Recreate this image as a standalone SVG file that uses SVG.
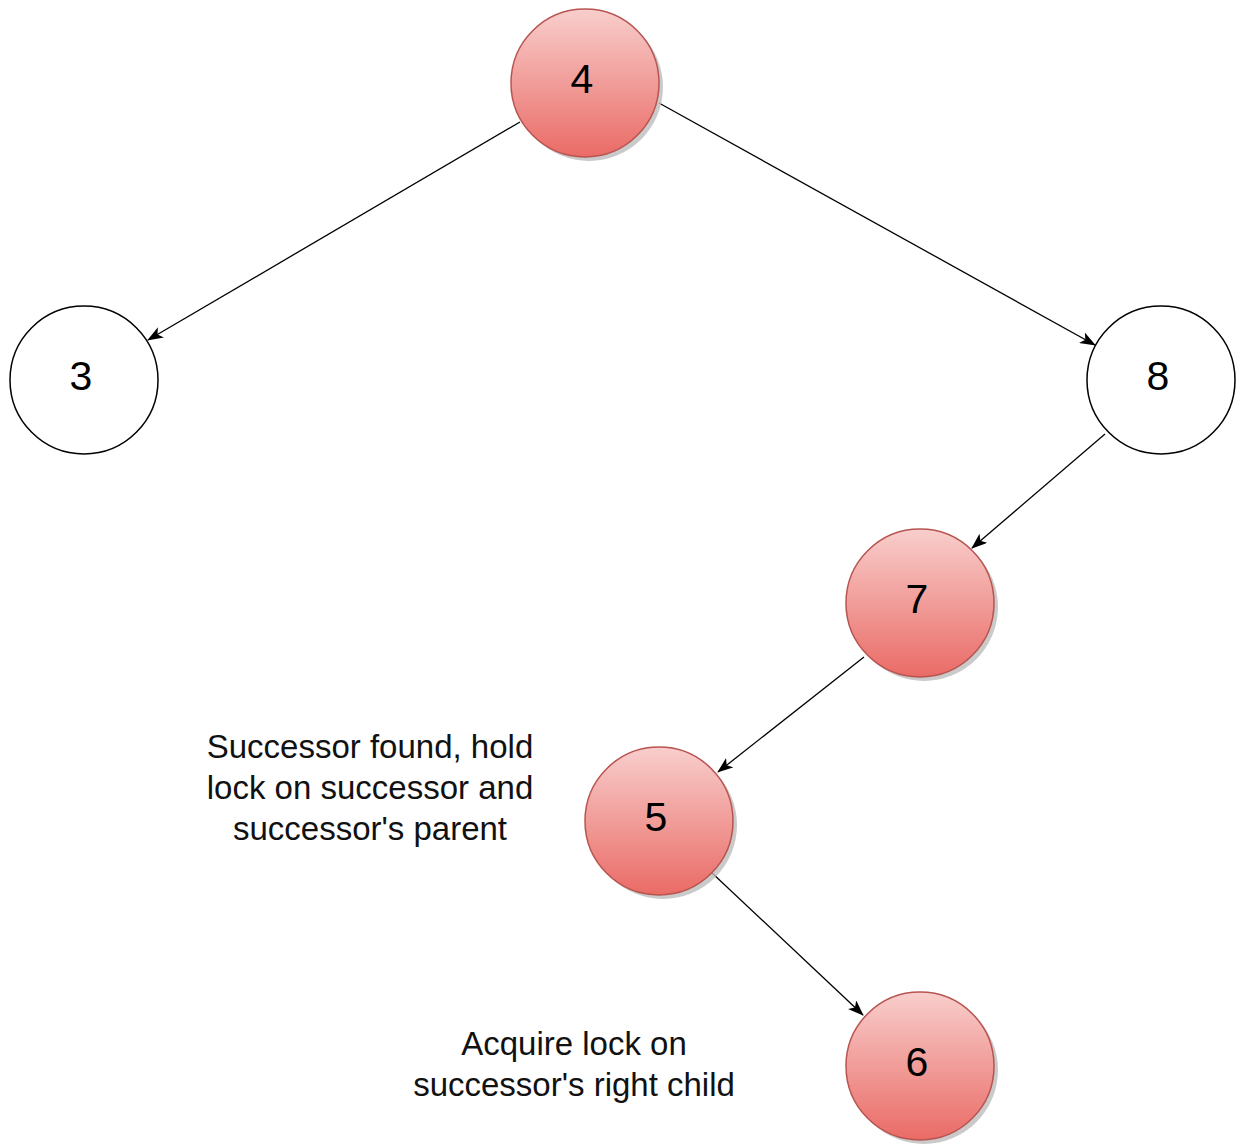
<svg xmlns="http://www.w3.org/2000/svg" width="1241" height="1146" viewBox="0 0 1241 1146">
  <style>
    .node-plain { fill: #ffffff; stroke: #000000; stroke-width: 1.5; }
    .node-red { fill: url(#redFill); stroke: #b85450; stroke-width: 1.5; }
    .shadow { fill: #bdbdbd; opacity: 0.8; }
    .digit { font-family: "Liberation Sans", Arial, sans-serif; font-size: 41px; fill: #000000; text-anchor: middle; dominant-baseline: central; }
    .note { font-family: "Liberation Sans", Arial, sans-serif; font-size: 33px; fill: #111111; text-anchor: middle; }
    .edge { stroke: #000000; stroke-width: 1.3; fill: none; marker-end: url(#arrow); }
  </style>
  <defs>
    <linearGradient id="redFill" x1="0" y1="0" x2="0" y2="1">
      <stop offset="0" stop-color="#f8cecc"/>
      <stop offset="1" stop-color="#ea6b66"/>
    </linearGradient>
    <marker id="arrow" viewBox="0 0 16 12" refX="15" refY="6" markerWidth="16" markerHeight="12" markerUnits="userSpaceOnUse" orient="auto">
      <path d="M0,0 L16,6 L0,12 L4,6 Z" fill="#000000"/>
    </marker>
  </defs>

  <rect width="1241" height="1146" fill="#ffffff"/>

  <!-- connectors -->
  <g id="connectors">
    <line class="edge" x1="520" y1="122" x2="148" y2="340"/>
    <line class="edge" x1="659" y1="103" x2="1095" y2="345"/>
    <line class="edge" x1="1105" y1="434" x2="972" y2="548"/>
    <line class="edge" x1="864" y1="657" x2="718" y2="772"/>
    <line class="edge" x1="711" y1="872" x2="863" y2="1015"/>
  </g>

  <!-- tree nodes -->
  <g id="node-4">
    <circle class="shadow" cx="589" cy="87" r="74"/>
    <circle class="node-red" cx="585" cy="83" r="74"/>
    <text class="digit" x="582" y="79">4</text>
  </g>
  <g id="node-3">
    <circle class="node-plain" cx="84" cy="380" r="74"/>
    <text class="digit" x="81" y="376">3</text>
  </g>
  <g id="node-8">
    <circle class="node-plain" cx="1161" cy="380" r="74"/>
    <text class="digit" x="1158" y="376">8</text>
  </g>
  <g id="node-7">
    <circle class="shadow" cx="924" cy="607" r="74"/>
    <circle class="node-red" cx="920" cy="603" r="74"/>
    <text class="digit" x="917" y="599">7</text>
  </g>
  <g id="node-5">
    <circle class="shadow" cx="663" cy="825" r="74"/>
    <circle class="node-red" cx="659" cy="821" r="74"/>
    <text class="digit" x="656" y="817">5</text>
  </g>
  <g id="node-6">
    <circle class="shadow" cx="924" cy="1070" r="74"/>
    <circle class="node-red" cx="920" cy="1066" r="74"/>
    <text class="digit" x="917" y="1062">6</text>
  </g>

  <!-- annotations -->
  <g id="note-successor">
    <text class="note" x="370" y="758">Successor found, hold</text>
    <text class="note" x="370" y="799">lock on successor and</text>
    <text class="note" x="370" y="840">successor's parent</text>
  </g>
  <g id="note-right-child">
    <text class="note" x="574" y="1055">Acquire lock on</text>
    <text class="note" x="574" y="1096">successor's right child</text>
  </g>
</svg>
